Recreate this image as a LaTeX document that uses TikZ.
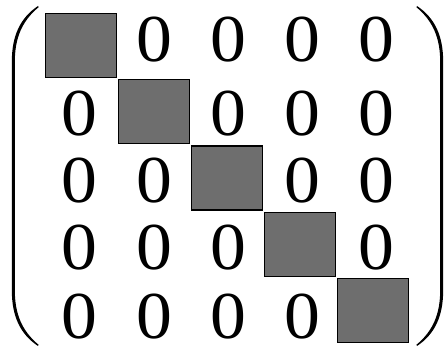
\documentclass[tikz,border=0pt]{standalone}
\usepackage{fontspec}
\setmainfont{Liberation Serif}
\definecolor{sqgray}{RGB}{110,110,110}
\begin{document}
\begin{tikzpicture}[x=1pt,y=-1pt,
  diagbox/.style={draw=black,line width=1.3pt,fill=sqgray,minimum width=71pt,minimum height=64pt,inner sep=0pt,outer sep=0pt},
  zerotext/.style={inner sep=0pt,anchor=base,font=\fontsize{67}{67}\selectfont,xscale=1.07},
  parenfill/.style={fill=black,draw=none}]
\useasboundingbox (0,0) rectangle (445,347);
% diagonal squares
\foreach \i in {0,...,4}{
  \node[diagbox] (d\i) at ({81+73*\i},{45.5+66.3*\i}) {};
}
% zeros
\def\rowbase{{62,136,203,270,339}}
\def\colx{{79.5,154,228,302.5,376.5}}
\foreach \r in {0,...,4}{
  \foreach \c in {0,...,4}{
    \ifnum\r=\c\else
      \pgfmathsetmacro{\xx}{\colx[\c]}
      \pgfmathsetmacro{\yy}{\rowbase[\r]}
      \node[zerotext] (z\r\c) at (\xx,\yy) {0};
    \fi
  }
}
% left parenthesis
\fill[parenfill] (38,6) .. controls (20,18) and (11.8,36) .. (11.8,62) -- (11.8,290)
  .. controls (11.8,316) and (20,334) .. (38,346) -- (38.6,344.8)
  .. controls (22,331) and (14.8,314) .. (14.8,290) -- (14.8,62)
  .. controls (14.8,38) and (22,21) .. (38.6,7.2) -- cycle;
% right parenthesis
\fill[parenfill] (417,6) .. controls (435,18) and (443.2,36) .. (443.2,62) -- (443.2,290)
  .. controls (443.2,316) and (435,334) .. (417,346) -- (416.4,344.8)
  .. controls (433,331) and (440.2,314) .. (440.2,290) -- (440.2,62)
  .. controls (440.2,38) and (433,21) .. (416.4,7.2) -- cycle;
\end{tikzpicture}
\end{document}
